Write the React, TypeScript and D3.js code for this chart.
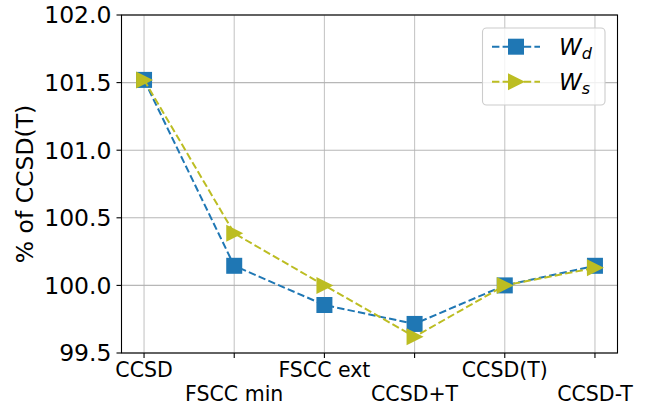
import React from "react";
import * as d3 from "d3";

const categories = ["CCSD", "FSCC min", "FSCC ext", "CCSD+T", "CCSD(T)", "CCSD-T"];
const wdValues = [101.52, 100.145, 99.855, 99.715, 100.0, 100.145];
const wsValues = [101.52, 100.385, 100.0, 99.62, 100.0, 100.13];
const yTicks = [99.5, 100.0, 100.5, 101.0, 101.5, 102.0];

const W = 647;
const H = 407;
const margin = { left: 121.5, right: 29.5, top: 15, bottom: 54 };
const BLUE = "#1f77b4";
const OLIVE = "#bcbd22";
const FONT = "DejaVu Sans, sans-serif";

export default function App() {
  const x = d3.scaleLinear().domain([-0.25, categories.length - 1 + 0.25]).range([margin.left, W - margin.right]);
  const y = d3.scaleLinear().domain([99.5, 102.0]).range([H - margin.bottom, margin.top]);
  const line = d3
    .line<number>()
    .x((_, i) => x(i))
    .y((d) => y(d));
  const ms = 16;
  const square = (cx: number, cy: number, key: string) => (
    <rect key={key} x={cx - ms / 2} y={cy - ms / 2} width={ms} height={ms} fill={BLUE} />
  );
  const tri = (cx: number, cy: number, key: string) => (
    <path
      key={key}
      d={`M${cx + ms / 2 + 1},${cy} L${cx - ms / 2},${cy - ms / 2 - 0.5} L${cx - ms / 2},${cy + ms / 2 + 0.5} Z`}
      fill={OLIVE}
    />
  );
  const x0 = margin.left;
  const x1 = W - margin.right;
  const y0 = H - margin.bottom;
  const y1 = margin.top;
  const legX = 482.5;
  const legY = 28;
  const row1 = 46.7;
  const row2 = 81.7;
  return (
    <svg width={W} height={H} style={{ position: "absolute", left: 0, top: 0, background: "#fff" }} fontFamily={FONT}>
      <rect x={0} y={0} width={W} height={H} fill="#fff" />
      {/* grid */}
      {categories.map((_, i) => (
        <line key={"gx" + i} x1={x(i)} x2={x(i)} y1={y0} y2={y1} stroke="#b0b0b0" strokeWidth={1.1} opacity={0.7} />
      ))}
      {yTicks.map((t) => (
        <line key={"gy" + t} x1={x0} x2={x1} y1={y(t)} y2={y(t)} stroke="#b0b0b0" strokeWidth={1.1} opacity={0.9} />
      ))}
      {/* lines */}
      <path d={line(wdValues) || ""} fill="none" stroke={BLUE} strokeWidth={2} strokeDasharray="7.4,3.2" />
      {wdValues.map((v, i) => square(x(i), y(v), "s" + i))}
      <path d={line(wsValues) || ""} fill="none" stroke={OLIVE} strokeWidth={2} strokeDasharray="7.4,3.2" />
      {wsValues.map((v, i) => tri(x(i), y(v), "t" + i))}
      {/* spines */}
      <rect x={x0} y={y1} width={x1 - x0} height={y0 - y1} fill="none" stroke="#000" strokeWidth={1.1} />
      {/* y ticks */}
      {yTicks.map((t) => (
        <g key={"yt" + t}>
          <line x1={x0 - 5} x2={x0} y1={y(t)} y2={y(t)} stroke="#000" strokeWidth={1.1} />
          <text x={x0 - 10} y={y(t)} dy="0.36em" textAnchor="end" fontSize={23.5} fill="#000">
            {t.toFixed(1)}
          </text>
        </g>
      ))}
      {/* x ticks */}
      {categories.map((c, i) => (
        <g key={"xt" + i}>
          <line x1={x(i)} x2={x(i)} y1={y0} y2={y0 + 5} stroke="#000" strokeWidth={1.1} />
          <text x={x(i)} y={y0 + 24 + (i % 2) * 23.5} textAnchor="middle" fontSize={20.5} fill="#000">
            {c}
          </text>
        </g>
      ))}
      {/* y label */}
      <text
        transform={`translate(33,${(y0 + y1) / 2}) rotate(-90)`}
        textAnchor="middle"
        fontSize={23.5}
        fill="#000"
      >
        % of CCSD(T)
      </text>
      {/* legend */}
      <rect x={legX} y={legY} width={122.5} height={77} rx={4} fill="#fff" fillOpacity={0.8} stroke="#cccccc" strokeWidth={1.1} />
      <line x1={492} x2={540} y1={row1} y2={row1} stroke={BLUE} strokeWidth={2} strokeDasharray="7.4,3.2" />
      {square(516, row1, "ls")}
      <line x1={492} x2={540} y1={row2} y2={row2} stroke={OLIVE} strokeWidth={2} strokeDasharray="7.4,3.2" />
      {tri(516, row2, "lt")}
      <text x={559} y={row1} dy="0.36em" fontSize={23} fontStyle="italic" fill="#000">
        W<tspan fontSize={16} dy="4">d</tspan>
      </text>
      <text x={559} y={row2} dy="0.36em" fontSize={23} fontStyle="italic" fill="#000">
        W<tspan fontSize={16} dy="4">s</tspan>
      </text>
    </svg>
  );
}
